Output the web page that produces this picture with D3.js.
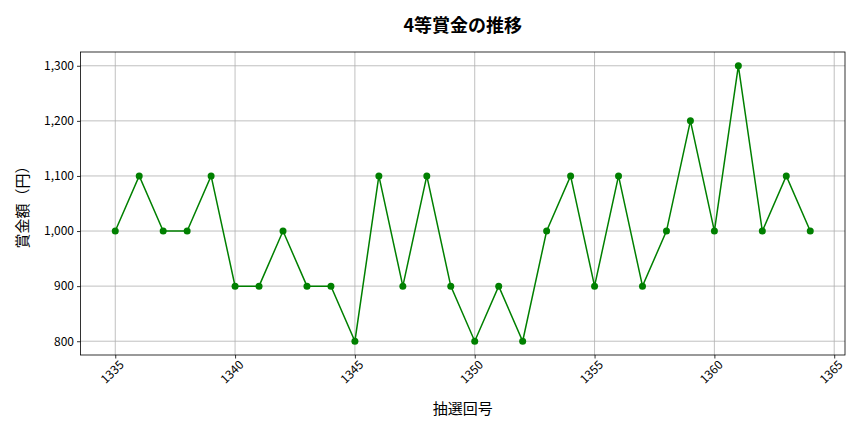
<!DOCTYPE html>
<html>
<head>
<meta charset="utf-8">
<script src="https://cdn.jsdelivr.net/npm/d3@7"></script>
<style>
  body { margin: 0; background: #fff; }
  svg { display: block; }
  svg text { font-family: "Noto Sans CJK JP", "Noto Sans", sans-serif; }
</style>
</head>
<body>
<svg id="chart" width="864" height="432"></svg>
<script>
// draw rounds and 4th prize amounts
var rounds = [1335, 1336, 1337, 1338, 1339, 1340, 1341, 1342, 1343, 1344,
  1345, 1346, 1347, 1348, 1349, 1350, 1351, 1352, 1353, 1354,
  1355, 1356, 1357, 1358, 1359, 1360, 1361, 1362, 1363, 1364];
var prizes = [1000, 1100, 1000, 1000, 1100, 900, 900, 1000, 900, 900,
  800, 1100, 900, 1100, 900, 800, 900, 800, 1000, 1100,
  900, 1100, 900, 1000, 1200, 1000, 1300, 1000, 1100, 1000];
var xTicks = [1335, 1340, 1345, 1350, 1355, 1360, 1365];
var yTicks = [800, 900, 1000, 1100, 1200, 1300];

var margin = { left: 80.5, right: 19, top: 52, bottom: 77 };
var width = 864, height = 432;

var svg = d3.select("#chart");

var xPad = (d3.max(rounds) - d3.min(rounds)) * 0.05;
var yPad = (d3.max(prizes) - d3.min(prizes)) * 0.05;

var x = d3.scaleLinear()
  .domain([d3.min(rounds) - xPad, d3.max(rounds) + xPad])
  .range([margin.left, width - margin.right]);

var y = d3.scaleLinear()
  .domain([d3.min(prizes) - yPad, d3.max(prizes) + yPad])
  .range([height - margin.bottom, margin.top]);

// grid
svg.append("g")
  .selectAll("line")
  .data(xTicks)
  .join("line")
  .attr("x1", function (d) { return x(d); })
  .attr("x2", function (d) { return x(d); })
  .attr("y1", margin.top)
  .attr("y2", height - margin.bottom)
  .attr("stroke", "#b0b0b0")
  .attr("stroke-width", 0.8);

svg.append("g")
  .selectAll("line")
  .data(yTicks)
  .join("line")
  .attr("x1", margin.left)
  .attr("x2", width - margin.right)
  .attr("y1", function (d) { return y(d); })
  .attr("y2", function (d) { return y(d); })
  .attr("stroke", "#b0b0b0")
  .attr("stroke-width", 0.8);

// axes
var xAxis = svg.append("g")
  .attr("transform", "translate(0," + (height - margin.bottom) + ")")
  .call(d3.axisBottom(x).tickValues(xTicks).tickFormat(d3.format("d")).tickSizeOuter(0).tickSize(3.5));

xAxis.selectAll("text")
  .attr("font-size", 12)
  .attr("fill", "#000")
  .attr("text-anchor", "end")
  .attr("dx", "-0.1em")
  .attr("dy", "0.6em")
  .attr("transform", "rotate(-45)");

var yAxis = svg.append("g")
  .attr("transform", "translate(" + margin.left + ",0)")
  .call(d3.axisLeft(y).tickValues(yTicks).tickFormat(d3.format(",")).tickSizeOuter(0).tickSize(3.5));

yAxis.selectAll("text").attr("font-size", 12).attr("fill", "#000");
svg.selectAll(".domain").remove();
svg.selectAll(".tick line").attr("stroke", "#000").attr("stroke-width", 0.8);

// frame
svg.append("rect")
  .attr("x", margin.left)
  .attr("y", margin.top)
  .attr("width", width - margin.left - margin.right)
  .attr("height", height - margin.top - margin.bottom)
  .attr("fill", "none")
  .attr("stroke", "#000")
  .attr("stroke-width", 0.8);

// series
var points = rounds.map(function (r, i) { return { round: r, prize: prizes[i] }; });

svg.append("path")
  .datum(points)
  .attr("fill", "none")
  .attr("stroke", "green")
  .attr("stroke-width", 1.5)
  .attr("d", d3.line()
    .x(function (d) { return x(d.round); })
    .y(function (d) { return y(d.prize); }));

svg.append("g")
  .selectAll("circle")
  .data(points)
  .join("circle")
  .attr("cx", function (d) { return x(d.round); })
  .attr("cy", function (d) { return y(d.prize); })
  .attr("r", 3.5)
  .attr("fill", "green");

// titles
svg.append("text")
  .attr("x", (margin.left + width - margin.right) / 2)
  .attr("y", 32)
  .attr("text-anchor", "middle")
  .attr("font-size", 18)
  .attr("font-weight", "bold")
  .text("4等賞金の推移");

svg.append("text")
  .attr("x", (margin.left + width - margin.right) / 2)
  .attr("y", 414)
  .attr("text-anchor", "middle")
  .attr("font-size", 15)
  .text("抽選回号");

svg.append("text")
  .attr("transform", "translate(28," + ((margin.top + height - margin.bottom) / 2) + ") rotate(-90)")
  .attr("text-anchor", "middle")
  .attr("font-size", 15)
  .text("賞金額（円）");
</script>
</body>
</html>
